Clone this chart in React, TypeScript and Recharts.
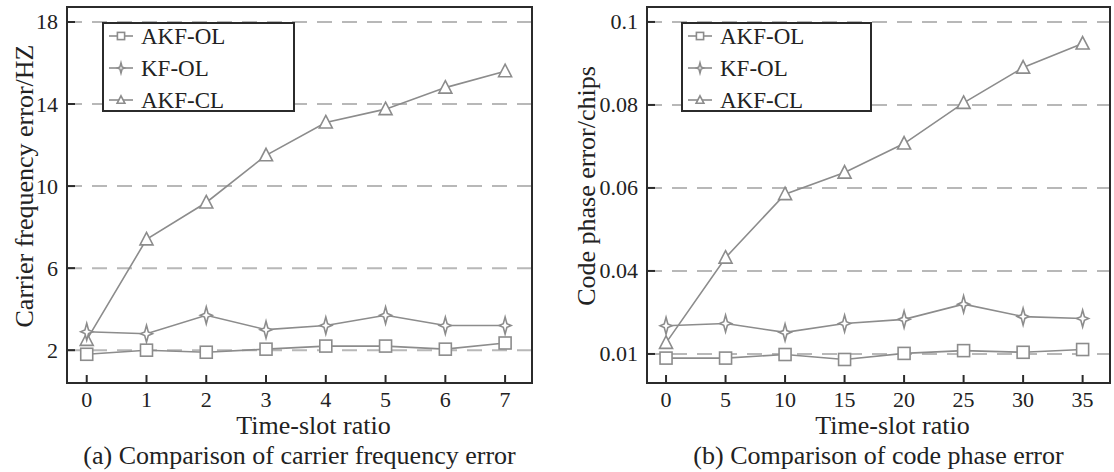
import { LineChart, Line, XAxis, YAxis, CartesianGrid, ReferenceArea, Legend } from 'recharts'

const FONT = '"Liberation Serif", "Times New Roman", serif'
const GRAY = '#8c8c8c'
const DARK = '#2b2b2b'
const TEXT = '#222'

const PLOT_TOP = 7
const PLOT_BOTTOM = 383
const CHART_H = 472
const X_AXIS_H = 30

const seriesNames = ['AKF-OL', 'KF-OL', 'AKF-CL']
type Kind = 'square' | 'star' | 'triangle'
const kinds: Kind[] = ['square', 'star', 'triangle']

// (a) carrier frequency error
const slotsA = [0, 1, 2, 3, 4, 5, 6, 7]
const akfOlA = [1.8, 2.0, 1.9, 2.05, 2.2, 2.2, 2.05, 2.35]
const kfOlA = [2.9, 2.8, 3.7, 3.0, 3.2, 3.7, 3.2, 3.2]
const akfClA = [2.5, 7.4, 9.2, 11.5, 13.1, 13.75, 14.8, 15.6]
const yTicksA = [2, 6, 10, 14, 18]

// (b) code phase error
const slotsB = [0, 5, 10, 15, 20, 25, 30, 35]
const akfOlB = [0.0085, 0.0085, 0.0098, 0.008, 0.0102, 0.0112, 0.0106, 0.0116]
const kfOlB = [0.0202, 0.021, 0.0178, 0.021, 0.0225, 0.028, 0.0235, 0.0228]
const akfClB = [0.014, 0.0432, 0.0585, 0.0637, 0.0707, 0.0805, 0.089, 0.0948]
const yTicksB = [0.01, 0.04, 0.06, 0.08, 0.1]

// the (b) axis has evenly spaced ticks with uneven steps, so values are
// placed piecewise-linearly between neighbouring ticks
function toAxisB(v: number) {
  const n = yTicksB.length
  for (let i = 0; i < n - 1; i++) {
    const a = yTicksB[i]
    const b = yTicksB[i + 1]
    if (v <= b || i === n - 2) return i + (v - a) / (b - a)
  }
  return 0
}

const dataA = slotsA.map((x, i) => ({ x, s0: akfOlA[i], s1: kfOlA[i], s2: akfClA[i] }))
const dataB = slotsB.map((x, i) => ({
  x,
  s0: toAxisB(akfOlB[i]),
  s1: toAxisB(kfOlB[i]),
  s2: toAxisB(akfClB[i]),
}))

function Marker({ kind, cx, cy, s = 1 }: { kind: Kind; cx: number; cy: number; s?: number }) {
  const common = { fill: '#fff', stroke: GRAY, strokeWidth: 1.6 }
  if (kind === 'square') {
    return <rect x={cx - 6 * s} y={cy - 6 * s} width={12 * s} height={12 * s} {...common} />
  }
  if (kind === 'triangle') {
    return (
      <polygon
        points={`${cx},${cy - 7 * s} ${cx + 6.5 * s},${cy + 5.5 * s} ${cx - 6.5 * s},${cy + 5.5 * s}`}
        {...common}
      />
    )
  }
  const a = 8.5 * s
  const b = 6 * s
  const c = 1.8 * s
  return (
    <polygon
      points={`${cx},${cy - a} ${cx + c},${cy - c} ${cx + b},${cy} ${cx + c},${cy + c} ${cx},${cy + a} ${cx - c},${cy + c} ${cx - b},${cy} ${cx - c},${cy - c}`}
      {...common}
    />
  )
}

function LegendBox({ width }: { width: number }) {
  return (
    <div
      style={{
        position: 'relative',
        width,
        height: 90,
        boxSizing: 'border-box',
        border: `2px solid ${DARK}`,
        background: '#fff',
        fontFamily: FONT,
        fontSize: 23,
        color: TEXT,
      }}
    >
      {seriesNames.map((name, i) => (
        <div
          key={name}
          style={{ position: 'absolute', left: 4, top: 12 + 32 * i - 16, height: 32, display: 'flex', alignItems: 'center' }}
        >
          <svg width={28} height={20} style={{ display: 'block' }}>
            <line x1={1} x2={25} y1={10} y2={10} stroke={GRAY} strokeWidth={1.6} />
            <Marker kind={kinds[i]} cx={13} cy={10} s={0.6} />
          </svg>
          <span style={{ marginLeft: 5, lineHeight: 1 }}>{name}</span>
        </div>
      ))}
    </div>
  )
}

interface PanelProps {
  left: number
  width: number
  yAxisWidth: number
  rightMargin: number
  data: { x: number; s0: number; s1: number; s2: number }[]
  xDomain: [number, number]
  xTicks: number[]
  yDomain: [number, number]
  yTicks: number[]
  yTickLabel: (v: number) => string
  yLabel: string
  yLabelX: number
  caption: string
  legendLeft: number
  legendWidth: number
}

function Panel(p: PanelProps) {
  const plotLeft = p.yAxisWidth
  const plotRight = p.width - p.rightMargin
  const plotCenter = (plotLeft + plotRight) / 2

  const renderXTick = (props: any) => {
    const { x, payload } = props
    return (
      <g>
        <line x1={x} x2={x} y1={PLOT_BOTTOM} y2={PLOT_BOTTOM - 8} stroke={DARK} strokeWidth={2} />
        <text x={x} y={399} textAnchor="middle" dominantBaseline="central" fontSize={22} fontFamily={FONT} fill={TEXT}>
          {payload.value}
        </text>
      </g>
    )
  }

  const renderYTick = (props: any) => {
    const { y, payload } = props
    return (
      <g>
        <line x1={plotLeft} x2={plotLeft + 8} y1={y} y2={y} stroke={DARK} strokeWidth={2} />
        <text x={plotLeft - 9} y={y} textAnchor="end" dominantBaseline="central" fontSize={22} fontFamily={FONT} fill={TEXT}>
          {p.yTickLabel(payload.value)}
        </text>
      </g>
    )
  }

  const labelStyle = {
    position: 'absolute' as const,
    transform: 'translateX(-50%)',
    whiteSpace: 'nowrap' as const,
    fontFamily: FONT,
    fontSize: 26,
    lineHeight: 0.8,
    color: TEXT,
  }

  return (
    <div style={{ position: 'absolute', left: p.left, top: 0, width: p.width, height: CHART_H }}>
      <LineChart
        width={p.width}
        height={CHART_H}
        data={p.data}
        margin={{ top: PLOT_TOP, right: p.rightMargin, left: 0, bottom: CHART_H - PLOT_BOTTOM - X_AXIS_H }}
      >
        <CartesianGrid vertical={false} stroke="#b8b8b8" strokeWidth={2} strokeDasharray="15 10" />
        <XAxis
          dataKey="x"
          type="number"
          domain={p.xDomain}
          ticks={p.xTicks}
          interval={0}
          allowDataOverflow
          height={X_AXIS_H}
          axisLine={false}
          tickLine={false}
          tick={renderXTick}
        />
        <YAxis
          type="number"
          domain={p.yDomain}
          ticks={p.yTicks}
          interval={0}
          allowDataOverflow
          width={p.yAxisWidth}
          axisLine={false}
          tickLine={false}
          tick={renderYTick}
        />
        {[2, 1, 0].map((i) => (
          <Line
            key={i}
            type="linear"
            dataKey={`s${i}`}
            name={seriesNames[i]}
            stroke={GRAY}
            strokeWidth={1.6}
            isAnimationActive={false}
            activeDot={false}
            dot={(d: any) => <Marker key={`${i}-${d.index}`} kind={kinds[i]} cx={d.cx} cy={d.cy} />}
          />
        ))}
        <ReferenceArea
          x1={p.xDomain[0]}
          x2={p.xDomain[1]}
          y1={p.yDomain[0]}
          y2={p.yDomain[1]}
          ifOverflow="visible"
          fill="none"
          stroke={DARK}
          strokeWidth={2}
        />
        <Legend
          layout="horizontal"
          align="center"
          verticalAlign="middle"
          wrapperStyle={{ position: 'absolute', left: p.legendLeft, top: 22, width: p.legendWidth, height: 90 }}
          content={() => <LegendBox width={p.legendWidth} />}
        />
      </LineChart>
      <div
        style={{
          position: 'absolute',
          left: p.yLabelX,
          top: 186,
          transform: 'translate(-50%, -50%) rotate(-90deg)',
          whiteSpace: 'nowrap',
          fontFamily: FONT,
          fontSize: 26,
          lineHeight: 1,
          color: TEXT,
        }}
      >
        {p.yLabel}
      </div>
      <div style={{ ...labelStyle, left: plotCenter + 14, top: 416 }}>Time-slot ratio</div>
      <div style={{ ...labelStyle, left: plotCenter, top: 446 }}>{p.caption}</div>
    </div>
  )
}

export default function App() {
  return (
    <div style={{ position: 'absolute', left: 0, top: 0, width: 1114, height: 472, background: '#fff', overflow: 'hidden' }}>
      <Panel
        left={0}
        width={545}
        yAxisWidth={67}
        rightMargin={13}
        data={dataA}
        xDomain={[-0.33, 7.45]}
        xTicks={slotsA}
        yDomain={[0.4, 18.73]}
        yTicks={yTicksA}
        yTickLabel={(v) => String(v)}
        yLabel="Carrier frequency error/HZ"
        yLabelX={25}
        caption="(a) Comparison of carrier frequency error"
        legendLeft={102}
        legendWidth={193}
      />
      <Panel
        left={560}
        width={554}
        yAxisWidth={87}
        rightMargin={4}
        data={dataB}
        xDomain={[-1.6, 37.3]}
        xTicks={slotsB}
        yDomain={[-0.35, 4.18]}
        yTicks={yTicksB.map(toAxisB)}
        yTickLabel={(v) => String(yTicksB[Math.round(v)])}
        yLabel="Code phase error/chips"
        yLabelX={27}
        caption="(b) Comparison of code phase error"
        legendLeft={121}
        legendWidth={191}
      />
    </div>
  )
}
